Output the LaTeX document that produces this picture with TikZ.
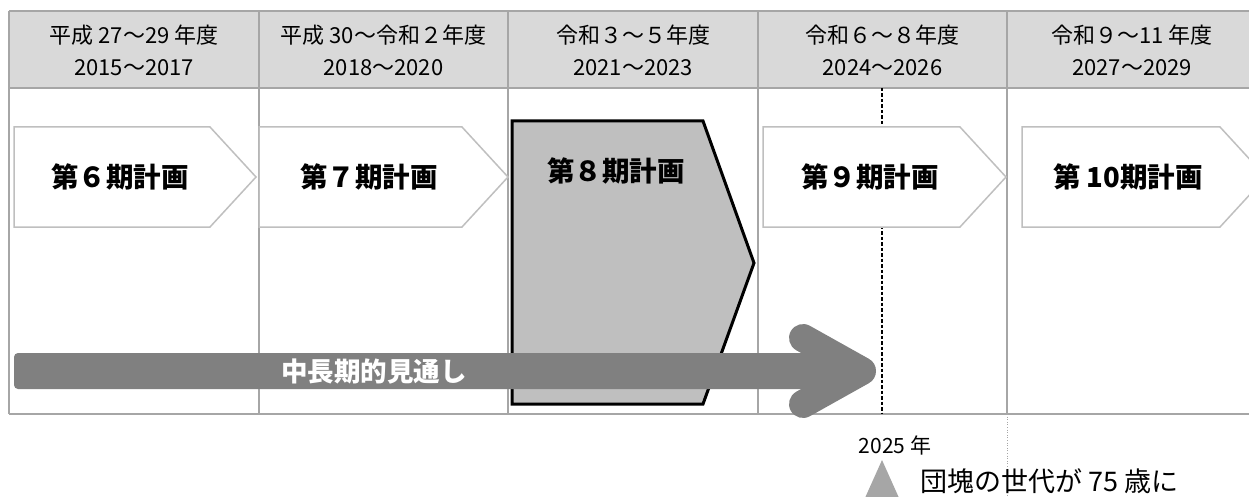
\documentclass[tikz,border=0pt]{standalone}
\usepackage{fontspec}
\newfontfamily\jp{Noto Sans CJK JP}
\definecolor{hdrfill}{HTML}{D9D9D9}
\definecolor{gridc}{HTML}{A6A6A6}
\definecolor{chevc}{HTML}{BFBFBF}
\definecolor{planfill}{HTML}{BFBFBF}
\definecolor{arrowc}{HTML}{808080}
\tikzset{
  hdr/.style={font=\jp\fontsize{22}{22}\selectfont, anchor=base, inner sep=0pt},
  plan/.style={font=\jp\bfseries\fontsize{27.5}{27.5}\selectfont, anchor=base, inner sep=0pt},
  gridline/.style={draw=gridc, line width=1.5pt},
  chev/.style={draw=chevc, fill=white, line width=1.5pt, line join=miter},
}
\begin{document}
\begin{tikzpicture}[x=1pt,y=-1pt]
\useasboundingbox (0,0) rectangle (1249,497);
\clip (0,0) rectangle (1249,497);
% header band
\fill[hdrfill] (9,11) rectangle (1260,88);
% grid
\draw[gridline] (9,11) -- (1260,11);
\draw[gridline] (9,88) -- (1260,88);
\draw[gridline] (9,414) -- (1260,414);
\foreach \xx in {9,259,508,758,1007} \draw[gridline] (\xx,11) -- (\xx,414);
\draw[gridc, line width=0.6pt, dotted] (1007,414) -- (1007,497);
% 2025 dashed line
\coordinate (dtop) at (882,88);
\coordinate (dbot) at (882,414);
\draw[black, line width=1.5pt, dash pattern=on 3.5pt off 2pt] (dtop) -- (dbot);
% header texts
\foreach \cx/\la/\lb [count=\i] in {134/{平成 27～29 年度}/{2015～2017},
  383.5/{平成 30～令和２年度}/{2018～2020},
  633/{令和３～５年度}/{2021～2023},
  882.5/{令和６～８年度}/{2024～2026},
  1132/{令和９～11 年度}/{2027～2029}} {
  \node[hdr] (h\i a) at (\cx,44) {\la};
  \node[hdr] (h\i b) at (\cx,76) {\lb};
}
% chevrons
\draw[chev] (14,127) -- (210,127) -- (256,177) -- (210,227) -- (14,227) -- cycle;
\draw[chev] (259,127) -- (462,127) -- (508,177) -- (462,227) -- (259,227) -- cycle;
\draw[chev] (763,127) -- (960,127) -- (1006,177) -- (960,227) -- (763,227) -- cycle;
\draw[chev] (1022,127) -- (1220,127) -- (1266,177) -- (1220,227) -- (1022,227) -- cycle;
% current plan
\draw[fill=planfill, draw=black, line width=3pt, line join=miter]
  (512,121) -- (703,121) -- (754,263) -- (703,404) -- (512,404) -- cycle;
% plan labels
\node[plan] (p6) at (120,188) {第６期計画};
\node[plan] (p7) at (369,188) {第７期計画};
\node[plan] (p8) at (616,182) {第８期計画};
\node[plan] (p9) at (870,188) {第９期計画};
\node[plan] (p10) at (1128,188) {第 10期計画};
% long-term arrow
\fill[arrowc, rounded corners=4pt] (14,353) rectangle (850,389);
\draw[arrowc, line width=28pt, line cap=round, line join=round]
  (803,338) -- (862,371) -- (803,404);
\node[plan, text=white, font=\jp\bfseries\fontsize{26.5}{26.5}\selectfont] (lt) at (374,381) {中長期的見通し};
% 2025 marker
\node[hdr, font=\jp\fontsize{21}{21}\selectfont] (y2025) at (895,453) {2025 年};
\fill[gridc] (882,460) -- (908,518) -- (856,518) -- cycle;
\node[hdr, anchor=base west, font=\jp\fontsize{27}{27}\selectfont] (dankai) at (920,491) {団塊の世代が 75 歳に};
\end{tikzpicture}
\end{document}
